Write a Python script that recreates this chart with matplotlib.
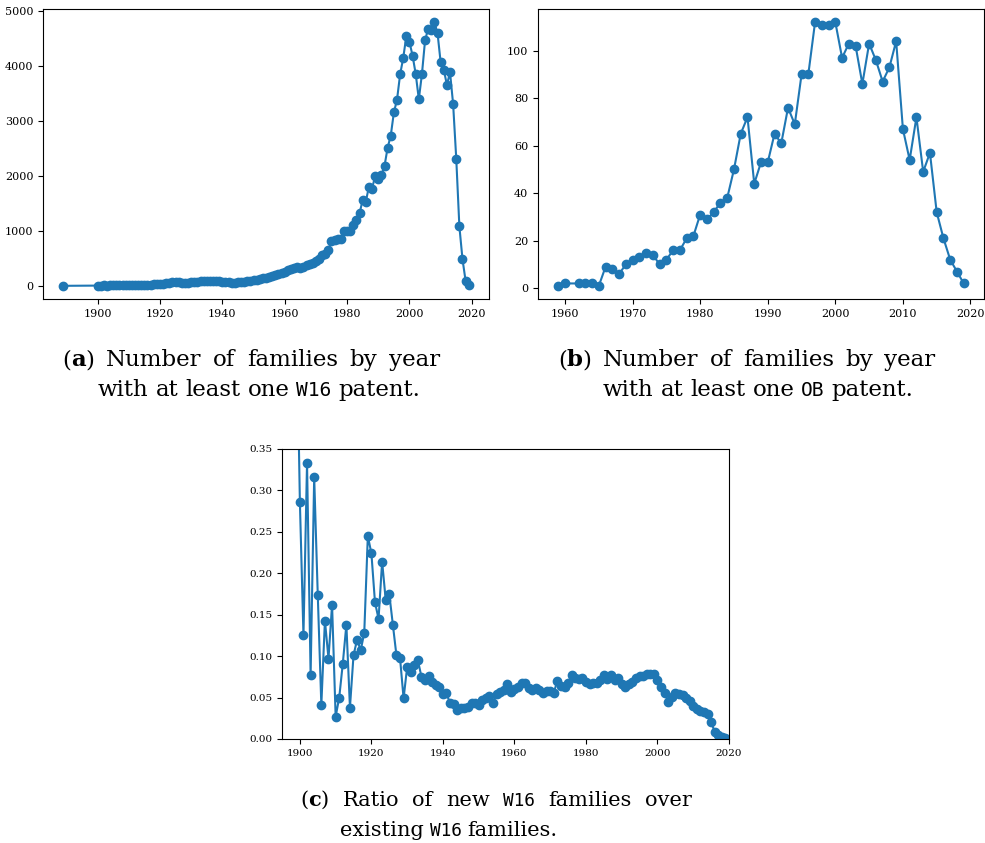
import matplotlib
matplotlib.use("Agg")
import matplotlib.pyplot as plt
from matplotlib.transforms import IdentityTransform

# (a) families with at least one W16 patent
years_a = [1889] + list(range(1900, 2020))
families_w16 = [
    1,
    5, 6, 7, 6, 8, 9, 8, 10, 11, 12,
    12, 14, 15, 17, 16, 18, 20, 22, 25, 35,
    40, 42, 45, 55, 65, 75, 70, 60, 45, 55,
    70, 72, 78, 85, 82, 85, 88, 85, 82, 80,
    78, 75, 65, 55, 60, 65, 70, 75, 85, 95,
    105, 115, 125, 135, 140, 160, 175, 195, 215, 240,
    260, 280, 300, 320, 340, 330, 350, 380, 400, 420,
    450, 480, 565, 570, 650, 820, 830, 845, 860, 1000,
    990, 1000, 1110, 1190, 1320, 1560, 1530, 1800, 1760, 2000,
    1950, 2010, 2180, 2510, 2730, 3150, 3380, 3840, 4140, 4540,
    4430, 4180, 3850, 3390, 3850, 4460, 4670, 4650, 4790, 4590,
    4060, 3930, 3650, 3880, 3300, 2310, 1080, 485, 90, 20,
]

# (b) families with at least one OB patent
years_b = [1959, 1960] + list(range(1962, 2020))
families_ob = [
    1, 2,
    2, 2, 2, 1, 9, 8, 6, 10,
    12, 13, 15, 14, 10, 12, 16, 16, 21, 22,
    31, 29, 32, 36, 38, 50, 65, 72, 44, 53,
    53, 65, 61, 76, 69, 90, 90, 112, 111, 111,
    112, 97, 103, 102, 86, 103, 96, 87, 93, 104,
    67, 54, 72, 49, 57, 32, 21, 12, 7, 2,
]

# (c) ratio of new W16 families over existing ones
years_c = [1889] + list(range(1900, 2020))
ratio_new = [
    3.0,
    0.286, 0.125, 0.333, 0.077, 0.316, 0.174, 0.041, 0.143, 0.097, 0.162,
    0.027, 0.050, 0.091, 0.138, 0.038, 0.101, 0.120, 0.107, 0.128, 0.245,
    0.224, 0.165, 0.145, 0.214, 0.168, 0.175, 0.138, 0.101, 0.098, 0.049,
    0.087, 0.081, 0.089, 0.095, 0.075, 0.071, 0.076, 0.069, 0.065, 0.063,
    0.054, 0.055, 0.043, 0.042, 0.035, 0.038, 0.038, 0.039, 0.044, 0.044,
    0.041, 0.047, 0.049, 0.052, 0.044, 0.054, 0.057, 0.059, 0.066, 0.057,
    0.060, 0.063, 0.068, 0.068, 0.062, 0.059, 0.061, 0.059, 0.055, 0.058,
    0.058, 0.056, 0.070, 0.064, 0.063, 0.068, 0.077, 0.074, 0.072, 0.074,
    0.069, 0.066, 0.068, 0.068, 0.071, 0.077, 0.072, 0.077, 0.071, 0.074,
    0.066, 0.063, 0.066, 0.069, 0.074, 0.076, 0.076, 0.078, 0.078, 0.078,
    0.071, 0.063, 0.055, 0.045, 0.051, 0.055, 0.054, 0.053, 0.049, 0.046,
    0.040, 0.036, 0.034, 0.033, 0.030, 0.020, 0.009, 0.005, 0.003, 0.001,
]

W, H = 985, 843
SERIF = "DejaVu Serif"
MONO = "DejaVu Sans Mono"


def axes_px(fig, left, top, right, bottom):
    return fig.add_axes([left / W, 1 - bottom / H, (right - left) / W, (bottom - top) / H])


def put_line(fig, renderer, y, x0, words, x1=None, space=6):
    # words are lists of (text, fontdict) pieces, drawn one after the other
    placed = []
    for word in words:
        arts, w = [], 0.0
        for text, style in word:
            t = fig.text(0, 0, text, transform=IdentityTransform(), va="baseline", **style)
            w += t.get_window_extent(renderer).width
            arts.append(t)
        placed.append((arts, w))
    if x1 is not None and len(placed) > 1:
        space = (x1 - x0 - sum(w for _, w in placed)) / (len(placed) - 1)
    x = x0
    for arts, w in placed:
        for t in arts:
            t.set_position((x, H - y))
            x += t.get_window_extent(renderer).width
        x += space


def caption_styles(size):
    reg = dict(family=SERIF, size=size)
    bold = dict(family=SERIF, size=size, weight="bold")
    mono = dict(family=MONO, size=size * 0.85)
    return reg, bold, mono


def main() -> None:
    plt.rcParams["font.family"] = "serif"
    plt.rcParams["font.serif"] = [SERIF]
    fig = plt.figure(figsize=(W / 100, H / 100), dpi=100)

    ax_a = axes_px(fig, 43, 9, 489, 299)
    ax_a.plot(years_a, families_w16, marker="o")
    ax_a.tick_params(labelsize=8)

    ax_b = axes_px(fig, 538, 9, 984, 299)
    ax_b.plot(years_b, families_ob, marker="o")
    ax_b.tick_params(labelsize=8)

    ax_c = axes_px(fig, 282, 449, 729, 739)
    ax_c.plot(years_c, ratio_new, marker="o")
    ax_c.set_xlim(1895, 2020)
    ax_c.set_ylim(0, 0.35)
    ax_c.tick_params(labelsize=7.5)

    renderer = fig.canvas.get_renderer()

    reg, bold, mono = caption_styles(16.5)
    label = lambda c: [("(", reg), (c, bold), (")", reg)]
    words = lambda s: [[(p, reg)] for p in s.split()]

    put_line(fig, renderer, 366, 62, [label("a")] + words("Number of families by year"), x1=440)
    put_line(fig, renderer, 396, 98,
             words("with at least one") + [[("W16", mono)]] + words("patent."), space=7)
    put_line(fig, renderer, 366, 558, [label("b")] + words("Number of families by year"), x1=935)
    put_line(fig, renderer, 396, 603,
             words("with at least one") + [[("OB", mono)]] + words("patent."), space=7)

    reg, bold, mono = caption_styles(15)
    label = lambda c: [("(", reg), (c, bold), (")", reg)]
    words = lambda s: [[(p, reg)] for p in s.split()]

    put_line(fig, renderer, 806, 300,
             [label("c")] + words("Ratio of new") + [[("W16", mono)]] + words("families over"),
             x1=692)
    put_line(fig, renderer, 836, 340,
             words("existing") + [[("W16", mono)]] + words("families."))

    fig.savefig("out.png", dpi=100)
    plt.close(fig)


if __name__ == "__main__":
    main()
